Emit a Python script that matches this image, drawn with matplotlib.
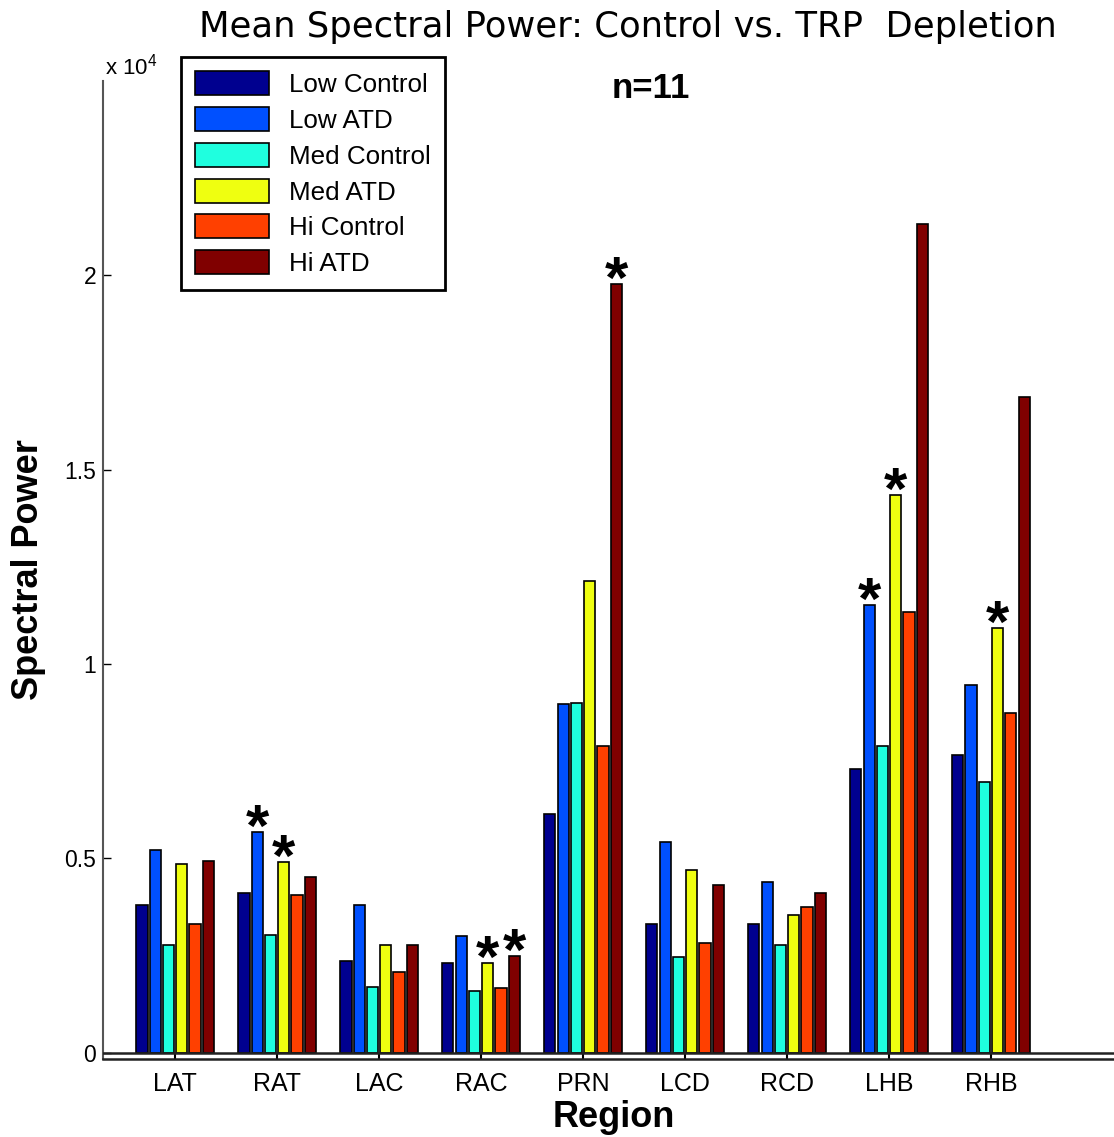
"""Grouped bar chart: mean spectral power, control vs. TRP depletion."""

import matplotlib

matplotlib.use("Agg")
import matplotlib.pyplot as plt
import numpy as np

regions = ["LAT", "RAT", "LAC", "RAC", "PRN", "LCD", "RCD", "LHB", "RHB"]
series_names = ["Low Control", "Low ATD", "Med Control", "Med ATD", "Hi Control", "Hi ATD"]

low_control = [3800, 4120, 2370, 2300, 6140, 3320, 3320, 7290, 7660]
low_atd = [5220, 5670, 3810, 3000, 8960, 5420, 4390, 11520, 9470]
med_control = [2780, 3030, 1700, 1590, 9000, 2470, 2780, 7890, 6970]
med_atd = [4860, 4900, 2780, 2300, 12130, 4700, 3540, 14360, 10940]
hi_control = [3310, 4070, 2080, 1670, 7900, 2820, 3750, 11350, 8730]
hi_atd = [4930, 4520, 2780, 2500, 19770, 4320, 4100, 21310, 16860]

# (region index, series index) pairs marked with a star
significant = [(1, 1), (1, 3), (3, 3), (3, 5), (4, 5), (7, 1), (7, 3), (8, 3)]

ytick_values = [0, 5000, 10000, 15000, 20000]
ytick_labels = ["0", "0.5", "1", "1.5", "2"]

series_colors = ["#00008F", "#0050FF", "#1FFFDF", "#EFFF10", "#FF4000", "#800000"]

plt.rcParams["font.family"] = ["Liberation Sans", "DejaVu Sans"]
plt.rcParams["mathtext.default"] = "regular"

fig = plt.figure(figsize=(11.14, 11.37), dpi=100)
ax = fig.add_axes([0.0925, 0.0686, 0.9075, 0.8602])

x = np.arange(1, len(regions) + 1)
slot = 0.13
bar_w = 0.11
values = [low_control, low_atd, med_control, med_atd, hi_control, hi_atd]

for j, (name, vals, color) in enumerate(zip(series_names, values, series_colors)):
    ax.bar(
        x + (j - 2.5) * slot,
        vals,
        width=bar_w,
        color=color,
        edgecolor="black",
        linewidth=1.2,
        label=name,
        zorder=2,
    )

for gi, sj in significant:
    ax.annotate(
        "*",
        xy=(x[gi] + (sj - 2.5) * slot, values[sj][gi]),
        xytext=(0, -10),
        textcoords="offset points",
        ha="center",
        va="baseline",
        fontsize=43,
        fontweight="bold",
    )

ax.set_xlim(0.294, 10.206)
ax.set_ylim(-160, 25000)
ax.axhline(0, color="#222222", linewidth=1.8, zorder=3)

for side in ("top", "right"):
    ax.spines[side].set_visible(False)
ax.spines["left"].set_color("#555555")
ax.spines["left"].set_linewidth(1.5)
ax.spines["bottom"].set_color("#222222")
ax.spines["bottom"].set_linewidth(1.8)

ax.set_xticks(x, regions, fontsize=18)
ax.set_yticks(ytick_values, ytick_labels, fontsize=16.5)
ax.tick_params(axis="x", direction="in", length=4.5, width=1.5, pad=9)
ax.tick_params(axis="y", direction="in", length=6, width=1, pad=5)

ax.set_ylabel("Spectral Power", fontsize=26, fontweight="bold", va="center")
ax.yaxis.set_label_coords(-0.074, 0.5)
ax.set_xlabel("Region", fontsize=26, fontweight="bold", va="center")
ax.xaxis.set_label_coords(0.505, -0.060)

leg = ax.legend(
    loc="upper left",
    bbox_to_anchor=(181 / 1114, 1 - 57 / 1137),
    bbox_transform=fig.transFigure,
    borderaxespad=0,
    fontsize=18.7,
    handlelength=2.85,
    handleheight=1.05,
    handletextpad=0.75,
    labelspacing=0.38,
    borderpad=0.55,
    fancybox=False,
    edgecolor="black",
    framealpha=1,
)
leg.get_frame().set_linewidth(2)

fig.text(628 / 1114, 1 - 27 / 1137, "Mean Spectral Power: Control vs. TRP  Depletion",
         ha="center", va="center", fontsize=25.5, family="DejaVu Sans")
fig.text(651 / 1114, 1 - 89 / 1137, "n=11", ha="center", va="center",
         fontsize=25, fontweight="bold")
fig.text(105 / 1114, 1 - 75 / 1137, r"x 10$^{4}$", ha="left", va="baseline", fontsize=16)

fig.savefig("out.png", dpi=100)
plt.close(fig)
